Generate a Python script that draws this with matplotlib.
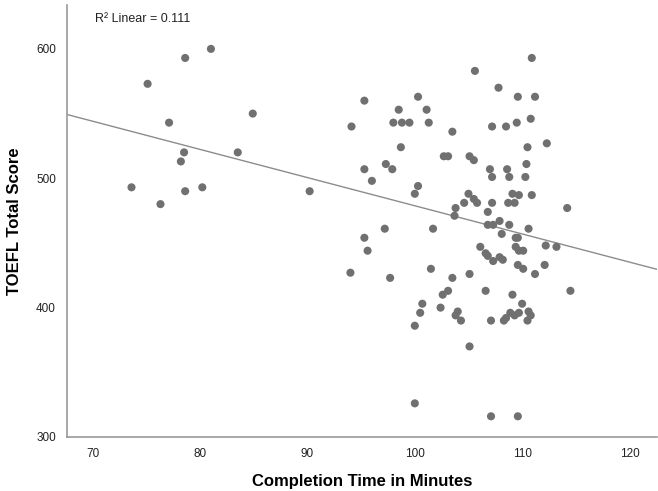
import matplotlib
matplotlib.use('Agg')
import matplotlib.pyplot as plt
import numpy as np

plt.rcParams['font.family'] = ['Liberation Sans', 'DejaVu Sans']

# completion time (minutes) and TOEFL total score
minutes = [
    81.0, 78.6, 75.1, 77.1, 84.9, 94.1, 78.5, 83.5, 78.2, 73.6, 78.6, 80.2,
    76.3, 90.2,
    110.9, 105.6, 107.8, 100.3, 109.6, 111.2, 95.3, 98.5, 101.1, 98.0, 98.8,
    99.5, 101.3, 110.8, 109.5, 107.2, 108.5, 103.5, 112.3, 110.5, 98.7,
    102.7, 103.1, 105.1, 105.5, 110.4, 95.3, 97.3, 97.9, 107.0, 108.6,
    107.2, 108.8, 110.3, 96.0, 100.3, 100.0, 105.0, 105.5, 105.8, 109.1,
    109.7, 110.9, 104.6, 107.2, 108.7, 109.3, 114.2, 103.8, 103.7, 106.8,
    107.9, 106.8, 107.3, 108.8, 108.1, 110.6, 97.2, 101.7, 109.4, 109.6,
    95.3, 95.6, 106.1, 112.2, 113.2, 109.4, 109.7, 110.1, 106.6, 107.9,
    106.8, 107.3, 108.2, 109.6, 110.1, 112.1, 111.2, 94.0, 97.7, 101.5,
    103.5, 105.1, 106.6, 109.1, 114.5, 103.1, 102.6, 100.7, 100.5, 102.4,
    104.0, 103.8, 104.3, 107.1, 110.0, 108.3, 108.5, 108.9, 109.3, 109.7,
    110.6, 110.8, 110.5, 100.0, 105.1, 100.0, 107.1, 109.6,
]
scores = [
    600, 593, 573, 543, 550, 540, 520, 520, 513, 493, 490, 493,
    480, 490,
    593, 583, 570, 563, 563, 563, 560, 553, 553, 543, 543,
    543, 543, 546, 543, 540, 540, 536, 527, 524, 524,
    517, 517, 517, 514, 511, 507, 511, 507, 507, 507,
    501, 501, 501, 498, 494, 488, 488, 484, 481, 488,
    487, 487, 481, 481, 481, 481, 477, 477, 471, 474,
    467, 464, 464, 464, 457, 461, 461, 461, 454, 454,
    454, 444, 447, 448, 447, 447, 444, 444, 442, 439,
    440, 436, 437, 433, 430, 433, 426, 427, 423, 430,
    423, 426, 413, 410, 413, 413, 410, 403, 396, 400,
    397, 394, 390, 390, 403, 390, 392, 396, 394, 396,
    397, 394, 390, 386, 370, 326, 316, 316,
]
x_ticks = [70, 80, 90, 100, 110, 120]
y_ticks = [300, 400, 500, 600]

x = np.array(minutes)
y = np.array(scores)
slope, intercept = np.polyfit(x, y, 1)

fig = plt.figure(figsize=(6.58, 4.91), dpi=100)
ax = fig.add_axes([0.102, 0.11, 0.897, 0.88])

ax.scatter(x, y, s=34, color='#707070', edgecolors='none', zorder=3)

xl = np.array([67.6, 122.6])
ax.plot(xl, slope * xl + intercept, color='#8c8c8c', lw=1.0, zorder=2)

ax.set_xlim(67.6, 122.6)
ax.set_ylim(300, 634)
ax.set_xticks(x_ticks)
ax.set_yticks(y_ticks)
ax.tick_params(length=0, labelsize=8.5, colors='#222222', pad=8)
for s in ['top', 'right']:
    ax.spines[s].set_visible(False)
for s in ['left', 'bottom']:
    ax.spines[s].set_color('#9a9a9a')
    ax.spines[s].set_linewidth(1.2)

ax.set_xlabel('Completion Time in Minutes', fontsize=12, fontweight='bold',
              labelpad=10)
ax.set_ylabel('TOEFL Total Score', fontsize=12, fontweight='bold', labelpad=10)

ax.text(0.048, 0.967, 'R² Linear = 0.111', transform=ax.transAxes,
        fontsize=9, va='center', ha='left', color='#222222')

fig.savefig('out.png', dpi=100)
